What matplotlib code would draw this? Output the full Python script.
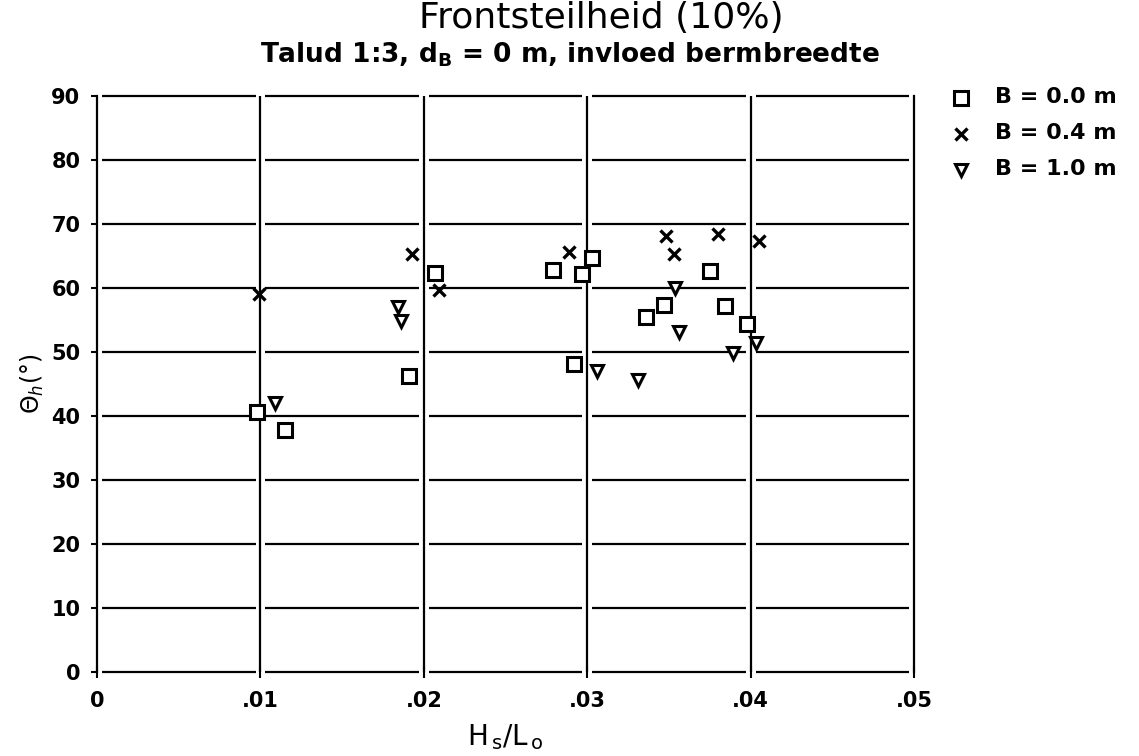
import matplotlib
matplotlib.use("Agg")
import matplotlib.pyplot as plt

# golfsteilheid Hs/Lo en frontsteilheid per bermbreedte
hs_lo_b00 = [0.0098, 0.0115, 0.0191, 0.0207, 0.0279, 0.0292, 0.0297, 0.0303,
             0.0336, 0.0347, 0.0375, 0.0384, 0.0398]
theta_b00 = [40.7, 37.8, 46.3, 62.4, 62.8, 48.1, 62.2, 64.7,
             55.4, 57.3, 62.7, 57.2, 54.4]

hs_lo_b04 = [0.0099, 0.0193, 0.0209, 0.0289, 0.0348, 0.0353, 0.0380, 0.0405]
theta_b04 = [59.1, 65.3, 59.7, 65.6, 68.2, 65.3, 68.5, 67.3]

hs_lo_b10 = [0.0109, 0.0184, 0.0186, 0.0306, 0.0331, 0.0354, 0.0356, 0.0389, 0.0403]
theta_b10 = [42.1, 57.0, 54.8, 47.1, 45.7, 60.0, 53.1, 49.9, 51.4]

labels = ["B = 0.0 m", "B = 0.4 m", "B = 1.0 m"]
x_ticks = [0, 0.01, 0.02, 0.03, 0.04, 0.05]
x_ticklabels = ["0", ".01", ".02", ".03", ".04", ".05"]
y_ticks = list(range(0, 100, 10))

fig = plt.figure(figsize=(11.39, 7.56), dpi=100)
ax = fig.add_axes([0.0852, 0.1111, 0.7173, 0.7619])
ax.set_xlim(0, 0.05)
ax.set_ylim(0, 90)

lw = 1.6
# horizontale rasterlijnen, onderbroken bij de verticale lijnen
gap = 0.0003
for y in y_ticks:
    for a, b in zip(x_ticks[:-1], x_ticks[1:]):
        ax.hlines(y, a + gap, b - gap, color="black", lw=lw, zorder=1, clip_on=False)
for x in x_ticks[1:-1]:
    ax.axvline(x, color="black", lw=lw, zorder=1)

for s in ["top", "bottom"]:
    ax.spines[s].set_visible(False)
for s in ["left", "right"]:
    ax.spines[s].set_linewidth(lw)

ax.plot(hs_lo_b00, theta_b00, ls="none", marker="s", ms=9.5, mfc="white", mec="black",
        mew=2.2, label=labels[0], zorder=3)
ax.plot(hs_lo_b04, theta_b04, ls="none", marker="x", ms=9, color="black",
        mew=2.4, label=labels[1], zorder=3)
ax.plot(hs_lo_b10, theta_b10, ls="none", marker="v", ms=9, mfc="white", mec="black",
        mew=2.2, label=labels[2], zorder=3)

ax.set_xticks(x_ticks)
ax.set_xticklabels(x_ticklabels, fontsize=15, fontweight="bold")
ax.set_yticks(y_ticks)
ax.set_yticklabels([str(v) for v in y_ticks], fontsize=15, fontweight="bold")
ax.tick_params(axis="y", direction="out", length=4, width=1.5, pad=8)
ax.tick_params(axis="x", direction="inout", length=8, width=1.5, pad=10)

ax.set_xlabel(r"$\mathrm{H_{\,s}/L_{\,o}}$", fontsize=20, labelpad=8)
ax.set_ylabel(r"$\Theta_h$(°)", fontsize=17, labelpad=4)

fig.text(0.528, 0.976, "Frontsteilheid (10%)", ha="center", va="center", fontsize=26)
fig.text(0.5, 0.927, r"Talud 1:3, d$_\mathbf{B}$ = 0 m, invloed bermbreedte",
         ha="center", va="center", fontsize=19, fontweight="bold")

leg = ax.legend(loc="upper left", bbox_to_anchor=(1.04, 1.025), frameon=False,
                numpoints=1, handlelength=1.2, handletextpad=1.9, labelspacing=1.15,
                borderaxespad=0)
for t in leg.get_texts():
    t.set_fontsize(16)
    t.set_fontweight("bold")

fig.savefig("out.png", dpi=100)
